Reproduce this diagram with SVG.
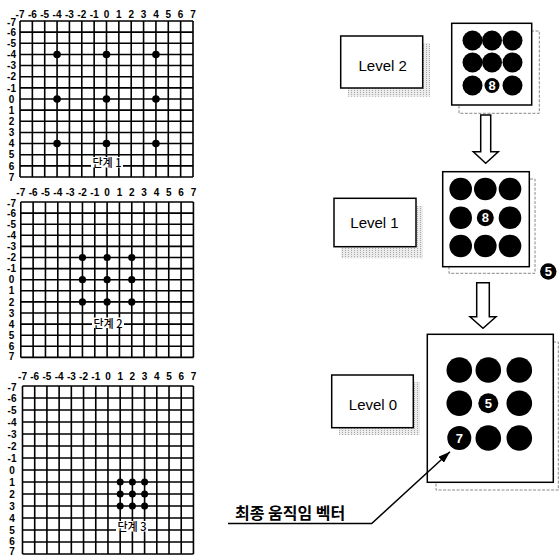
<svg xmlns="http://www.w3.org/2000/svg" width="560" height="556" viewBox="0 0 560 556">
<style>
.bg{fill:#fff}
.gl{fill:none;stroke:#000;stroke-width:1.6}
.dot{fill:#000}
.num{font-family:"Liberation Sans",Arial,sans-serif;font-size:10px;font-weight:bold;fill:#000;text-anchor:middle}
.kr{font-family:"Noto Sans CJK KR",sans-serif;font-size:11px;font-weight:500;fill:#000;text-anchor:middle}
.lblbox{fill:#fff;stroke:#000;stroke-width:1.5}
.lbltxt{font-family:"Liberation Sans",Arial,sans-serif;font-size:15px;fill:#000;text-anchor:middle}
.shade{fill:url(#stip)}
.back{fill:#fff;stroke:#888;stroke-width:1;stroke-dasharray:3 1.5}
.box{fill:#fff;stroke:#000;stroke-width:1.5}
.cir{fill:#000}
.ctxt{font-family:"Liberation Sans",Arial,sans-serif;font-size:13px;font-weight:bold;fill:#fff;text-anchor:middle}
.arr{fill:#fff;stroke:#000;stroke-width:1.5;stroke-linejoin:miter}
.lead{fill:none;stroke:#000;stroke-width:1.5}
</style>
<defs>
<pattern id="stip" width="3" height="2" patternUnits="userSpaceOnUse">
<rect width="3" height="2" fill="#ececec"/>
<rect width="1" height="1" fill="#a8a8a8"/>
</pattern>
<marker id="ah" viewBox="0 0 12 8" refX="12" refY="4" markerWidth="12" markerHeight="8" markerUnits="userSpaceOnUse" orient="auto">
<path d="M0 0L12 4L0 8Z" fill="#000"/>
</marker>
</defs>
<rect class="bg" width="560" height="556"/>

<g id="grid1">
<path class="gl" transform="translate(20,21) scale(12.357,11.143)" vector-effect="non-scaling-stroke" d="M0 0V14M1 0V14M2 0V14M3 0V14M4 0V14M5 0V14M6 0V14M7 0V14M8 0V14M9 0V14M10 0V14M11 0V14M12 0V14M13 0V14M14 0V14M0 0H14M0 1H14M0 2H14M0 3H14M0 4H14M0 5H14M0 6H14M0 7H14M0 8H14M0 9H14M0 10H14M0 11H14M0 12H14M0 13H14M0 14H14"/>
<text class="num" y="18.3"><tspan x="20">-7</tspan><tspan x="32.36">-6</tspan><tspan x="44.71">-5</tspan><tspan x="57.07">-4</tspan><tspan x="69.43">-3</tspan><tspan x="81.79">-2</tspan><tspan x="94.14">-1</tspan><tspan x="106.5">0</tspan><tspan x="118.86">1</tspan><tspan x="131.21">2</tspan><tspan x="143.57">3</tspan><tspan x="155.93">4</tspan><tspan x="168.29">5</tspan><tspan x="180.64">6</tspan><tspan x="193">7</tspan></text>
<text class="num"><tspan x="11.5" y="25.6">-7</tspan><tspan x="11.5" y="35.7">-6</tspan><tspan x="11.5" y="46.9">-5</tspan><tspan x="11.5" y="58">-4</tspan><tspan x="11.5" y="69.2">-3</tspan><tspan x="11.5" y="80.3">-2</tspan><tspan x="11.5" y="91.5">-1</tspan><tspan x="11.5" y="102.6">0</tspan><tspan x="11.5" y="113.7">1</tspan><tspan x="11.5" y="124.9">2</tspan><tspan x="11.5" y="136">3</tspan><tspan x="11.5" y="147.2">4</tspan><tspan x="11.5" y="158.3">5</tspan><tspan x="11.5" y="169.5">6</tspan><tspan x="11.5" y="180.6">7</tspan></text>
<g class="dot">
<circle cx="57.07" cy="54.43" r="3.8"/><circle cx="106.5" cy="54.43" r="3.8"/><circle cx="155.93" cy="54.43" r="3.8"/>
<circle cx="57.07" cy="99" r="3.8"/><circle cx="106.5" cy="99" r="3.8"/><circle cx="155.93" cy="99" r="3.8"/>
<circle cx="57.07" cy="143.57" r="3.8"/><circle cx="106.5" cy="143.57" r="3.8"/><circle cx="155.93" cy="143.57" r="3.8"/>
</g>
<rect class="bg" x="91" y="157" width="32" height="10.5"/>
<text class="kr" x="107" y="167">단계 1</text>
</g>

<g id="grid2">
<path class="gl" transform="translate(20.8,202) scale(12.33,11.1)" vector-effect="non-scaling-stroke" d="M0 0V14M1 0V14M2 0V14M3 0V14M4 0V14M5 0V14M6 0V14M7 0V14M8 0V14M9 0V14M10 0V14M11 0V14M12 0V14M13 0V14M14 0V14M0 0H14M0 1H14M0 2H14M0 3H14M0 4H14M0 5H14M0 6H14M0 7H14M0 8H14M0 9H14M0 10H14M0 11H14M0 12H14M0 13H14M0 14H14"/>
<text class="num" y="195.5"><tspan x="20.8">-7</tspan><tspan x="33.13">-6</tspan><tspan x="45.46">-5</tspan><tspan x="57.79">-4</tspan><tspan x="70.12">-3</tspan><tspan x="82.45">-2</tspan><tspan x="94.78">-1</tspan><tspan x="107.11">0</tspan><tspan x="119.44">1</tspan><tspan x="131.77">2</tspan><tspan x="144.1">3</tspan><tspan x="156.43">4</tspan><tspan x="168.76">5</tspan><tspan x="181.09">6</tspan><tspan x="193.42">7</tspan></text>
<text class="num"><tspan x="11.5" y="206.6">-7</tspan><tspan x="11.5" y="216.7">-6</tspan><tspan x="11.5" y="227.8">-5</tspan><tspan x="11.5" y="238.9">-4</tspan><tspan x="11.5" y="250">-3</tspan><tspan x="11.5" y="261.1">-2</tspan><tspan x="11.5" y="272.2">-1</tspan><tspan x="11.5" y="283.3">0</tspan><tspan x="11.5" y="294.4">1</tspan><tspan x="11.5" y="305.5">2</tspan><tspan x="11.5" y="316.6">3</tspan><tspan x="11.5" y="327.7">4</tspan><tspan x="11.5" y="338.8">5</tspan><tspan x="11.5" y="349.9">6</tspan><tspan x="11.5" y="360">7</tspan></text>
<g class="dot">
<circle cx="82.45" cy="257.5" r="3.6"/><circle cx="107.11" cy="257.5" r="3.6"/><circle cx="131.77" cy="257.5" r="3.6"/>
<circle cx="82.45" cy="279.7" r="3.6"/><circle cx="107.11" cy="279.7" r="3.6"/><circle cx="131.77" cy="279.7" r="3.6"/>
<circle cx="82.45" cy="301.9" r="3.6"/><circle cx="107.11" cy="301.9" r="3.6"/><circle cx="131.77" cy="301.9" r="3.6"/>
</g>
<rect class="bg" x="92" y="317.5" width="32" height="10.5"/>
<text class="kr" x="108" y="327.5">단계 2</text>
</g>

<g id="grid3">
<path class="gl" transform="translate(22.5,386) scale(12.21,12)" vector-effect="non-scaling-stroke" d="M0 0V14M1 0V14M2 0V14M3 0V14M4 0V14M5 0V14M6 0V14M7 0V14M8 0V14M9 0V14M10 0V14M11 0V14M12 0V14M13 0V14M14 0V14M0 0H14M0 1H14M0 2H14M0 3H14M0 4H14M0 5H14M0 6H14M0 7H14M0 8H14M0 9H14M0 10H14M0 11H14M0 12H14M0 13H14M0 14H14"/>
<text class="num" y="379.5"><tspan x="22.5">-7</tspan><tspan x="34.71">-6</tspan><tspan x="46.92">-5</tspan><tspan x="59.13">-4</tspan><tspan x="71.34">-3</tspan><tspan x="83.55">-2</tspan><tspan x="95.76">-1</tspan><tspan x="107.97">0</tspan><tspan x="120.18">1</tspan><tspan x="132.39">2</tspan><tspan x="144.6">3</tspan><tspan x="156.81">4</tspan><tspan x="169.02">5</tspan><tspan x="181.23">6</tspan><tspan x="193.44">7</tspan></text>
<text class="num"><tspan x="12" y="390.6">-7</tspan><tspan x="12" y="401.6">-6</tspan><tspan x="12" y="413.6">-5</tspan><tspan x="12" y="425.6">-4</tspan><tspan x="12" y="437.6">-3</tspan><tspan x="12" y="449.6">-2</tspan><tspan x="12" y="461.6">-1</tspan><tspan x="12" y="473.6">0</tspan><tspan x="12" y="485.6">1</tspan><tspan x="12" y="497.6">2</tspan><tspan x="12" y="509.6">3</tspan><tspan x="12" y="521.6">4</tspan><tspan x="12" y="533.6">5</tspan><tspan x="12" y="545">6</tspan><tspan x="12" y="554.8">7</tspan></text>
<g class="dot">
<circle cx="120.18" cy="482" r="3.5"/><circle cx="132.39" cy="482" r="3.5"/><circle cx="144.6" cy="482" r="3.5"/>
<circle cx="120.18" cy="494" r="3.5"/><circle cx="132.39" cy="494" r="3.5"/><circle cx="144.6" cy="494" r="3.5"/>
<circle cx="120.18" cy="506" r="3.5"/><circle cx="132.39" cy="506" r="3.5"/><circle cx="144.6" cy="506" r="3.5"/>
</g>
<rect class="bg" x="116" y="521" width="32" height="10.5"/>
<text class="kr" x="132" y="530.5">단계 3</text>
</g>

<g id="level2-label">
<rect class="shade" x="348" y="43" width="82" height="53.7"/>
<rect class="lblbox" x="340.7" y="36" width="82" height="52"/>
<text class="lbltxt" x="382.7" y="70.7">Level 2</text>
</g>
<g id="level2-blocks">
<rect class="back" x="459" y="31" width="80.3" height="82.3"/>
<rect class="box" x="451.7" y="23.3" width="80" height="81.7"/>
<g class="cir">
<circle cx="472.5" cy="40.5" r="10"/><circle cx="492" cy="40.5" r="10"/><circle cx="512.5" cy="40.5" r="10"/>
<circle cx="472.5" cy="62.5" r="10"/><circle cx="492" cy="62.5" r="10"/><circle cx="512.5" cy="62.5" r="10"/>
<circle cx="472.5" cy="85.5" r="10"/><circle cx="492" cy="85.5" r="7.5"/><circle cx="512.5" cy="85.5" r="10"/>
</g>
<text class="ctxt" x="492" y="90.2">8</text>
</g>

<g id="level1-label">
<rect class="shade" x="341" y="206" width="82" height="52.3"/>
<rect class="lblbox" x="334" y="198.3" width="82" height="48.4"/>
<text class="lbltxt" x="374.5" y="228.3">Level 1</text>
</g>
<g id="level1-blocks">
<rect class="back" x="449" y="179" width="86" height="94.3"/>
<rect class="box" x="442.7" y="171.7" width="86.6" height="95"/>
<g class="cir">
<circle cx="460.7" cy="189" r="11.3"/><circle cx="485.3" cy="189" r="11.3"/><circle cx="510" cy="189" r="11.3"/>
<circle cx="460.7" cy="217.7" r="11.3"/><circle cx="485.3" cy="217.7" r="8.5"/><circle cx="510" cy="217.7" r="11.3"/>
<circle cx="460.7" cy="246" r="11.3"/><circle cx="485.3" cy="246" r="11.3"/><circle cx="510" cy="246" r="11.3"/>
</g>
<text class="ctxt" x="485.3" y="222.4">8</text>
</g>
<g id="result5">
<circle class="cir" cx="548.3" cy="271.5" r="8.2"/>
<text class="ctxt" x="548.3" y="276.2">5</text>
</g>

<g id="level0-label">
<rect class="shade" x="339" y="382" width="81" height="53"/>
<rect class="lblbox" x="331.7" y="375" width="81.6" height="52.7"/>
<text class="lbltxt" x="373" y="410">Level 0</text>
</g>
<g id="level0-blocks">
<rect class="back" x="436" y="342" width="122.3" height="148"/>
<rect class="box" x="427.3" y="334.3" width="126" height="148"/>
<g class="cir">
<circle cx="459.3" cy="370" r="12.8"/><circle cx="488.3" cy="370" r="12.8"/><circle cx="519.3" cy="370" r="12.8"/>
<circle cx="459.3" cy="403.3" r="12.8"/><circle cx="488.3" cy="403.3" r="10"/><circle cx="519.3" cy="403.3" r="12.8"/>
<circle cx="459.3" cy="438" r="12"/><circle cx="488.3" cy="438" r="12.8"/><circle cx="519.3" cy="438" r="12.8"/>
</g>
<text class="ctxt" x="488.3" y="408">5</text>
<text class="ctxt" x="459.3" y="442.7">7</text>
</g>

<g id="final-label">
<text x="235" y="519" font-family="'Noto Sans CJK KR',sans-serif" font-size="16" font-weight="bold" fill="#000">최종 움직임 벡터</text>
</g>

<g id="connectors">
<path class="arr" d="M480.7 115H490.7V151.7H498.3L485.7 163.3L473.3 151.7H480.7Z"/>
<path class="arr" d="M476.7 282.7H489.3V316.7H496L483 328.3L470 316.7H476.7Z"/>
<path class="lead" d="M228 523.5H371.7L450 451.7" marker-end="url(#ah)"/>
</g>
</svg>
